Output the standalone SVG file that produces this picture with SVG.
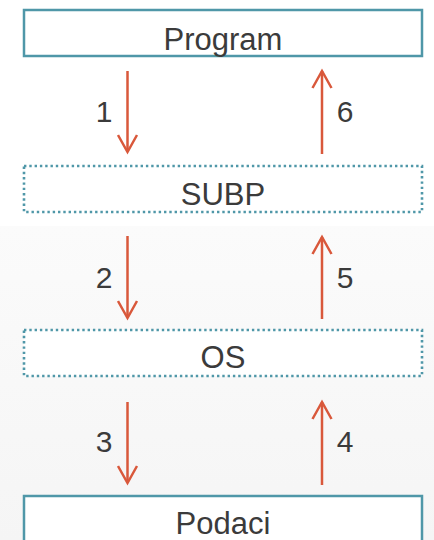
<svg xmlns="http://www.w3.org/2000/svg" width="434" height="540" viewBox="0 0 434 540">
  <defs>
    <linearGradient id="bgLower" x1="0" y1="0" x2="0" y2="1">
      <stop offset="0" stop-color="#fbfbfb"/>
      <stop offset="1" stop-color="#f5f5f5"/>
    </linearGradient>
    <!-- open V arrowhead, tip at (19,11), pointing along +x -->
    <marker id="head" viewBox="0 0 22 22" refX="19" refY="11" markerWidth="22" markerHeight="22" markerUnits="userSpaceOnUse" orient="auto">
      <path d="M2,1.5 L19,11 L2,20.5" fill="none" stroke="#d9583b" stroke-width="2.5"/>
    </marker>
    <style>
      .box { fill: #ffffff; stroke: #4f97a8; stroke-width: 2.5; }
      .dotted { fill: #ffffff; stroke: #4f97a8; stroke-width: 2.6; stroke-dasharray: 2.4 2.9; }
      .label { font-family: "Liberation Sans", Arial, sans-serif; font-size: 31px; fill: #3b3b3b; text-anchor: middle; }
      .num { font-family: "Liberation Sans", Arial, sans-serif; font-size: 30px; fill: #3b3b3b; text-anchor: middle; }
      .arrow { stroke: #d9583b; stroke-width: 2.5; fill: none; }
    </style>
  </defs>

  <!-- background -->
  <rect x="0" y="0" width="434" height="540" fill="#ffffff"/>
  <rect x="0" y="226" width="434" height="314" fill="url(#bgLower)"/>

  <g id="program">
    <rect class="box" x="24" y="10" width="398" height="46"/>
    <text class="label" x="223" y="50">Program</text>
  </g>

  <g id="subp">
    <rect class="dotted" x="24" y="166" width="398" height="46"/>
    <text class="label" x="223" y="205">SUBP</text>
  </g>

  <g id="os">
    <rect class="dotted" x="24" y="330" width="398" height="46"/>
    <text class="label" x="223" y="368">OS</text>
  </g>

  <g id="podaci">
    <rect class="box" x="24" y="496" width="398" height="60"/>
    <text class="label" x="223" y="534">Podaci</text>
  </g>

  <g id="connectors">
    <line class="arrow" x1="127.5" y1="71" x2="127.5" y2="152" marker-end="url(#head)"/>
    <line class="arrow" x1="322" y1="154" x2="322" y2="71" marker-end="url(#head)"/>
    <line class="arrow" x1="127.5" y1="236" x2="127.5" y2="318" marker-end="url(#head)"/>
    <line class="arrow" x1="322" y1="319" x2="322" y2="237" marker-end="url(#head)"/>
    <line class="arrow" x1="127.5" y1="402" x2="127.5" y2="483" marker-end="url(#head)"/>
    <line class="arrow" x1="322" y1="485" x2="322" y2="402" marker-end="url(#head)"/>
    <text class="num" x="104" y="122">1</text>
    <text class="num" x="345" y="122">6</text>
    <text class="num" x="104" y="288">2</text>
    <text class="num" x="345" y="288">5</text>
    <text class="num" x="104" y="452">3</text>
    <text class="num" x="345" y="452">4</text>
  </g>
</svg>
